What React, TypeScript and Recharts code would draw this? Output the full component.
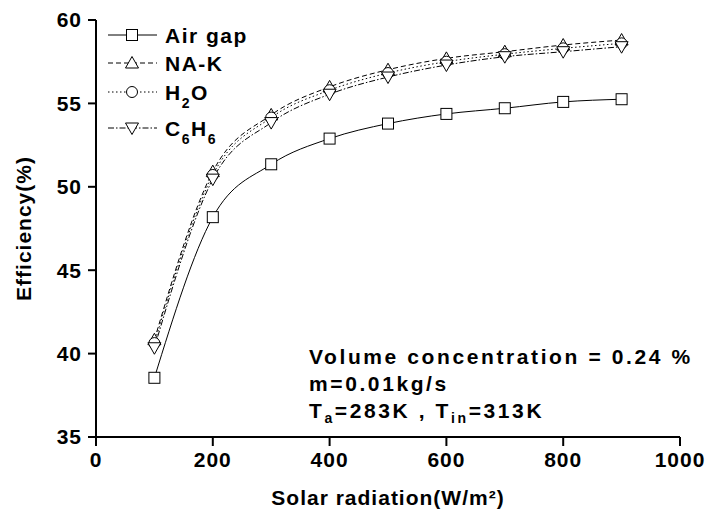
import React from "react";
import { LineChart, Line, XAxis, YAxis } from "recharts";

const radiation = [100, 200, 300, 400, 500, 600, 700, 800, 900];
const airGap = [38.55, 48.18, 51.35, 52.89, 53.79, 54.37, 54.71, 55.09, 55.25];
const naK = [40.83, 50.91, 54.31, 55.99, 57.02, 57.7, 58.1, 58.5, 58.8];
const h2o = [40.63, 50.71, 54.15, 55.79, 56.82, 57.5, 57.95, 58.3, 58.6];
const c6h6 = [40.35, 50.46, 53.85, 55.55, 56.58, 57.3, 57.8, 58.1, 58.4];

const xTicks = [0, 200, 400, 600, 800, 1000];
const xMinorTicks = [100, 300, 500, 700, 900];
const xTopTicks = [0, 100, 200, 300, 400, 500, 600, 700, 800, 900, 1000];
const yTicks = [35, 40, 45, 50, 55, 60];

const data = radiation.map((r, i) => ({
  r,
  airGap: airGap[i],
  naK: naK[i],
  h2o: h2o[i],
  c6h6: c6h6[i],
}));

const FONT = "'Liberation Sans', Arial, sans-serif";

type Shape = "square" | "up" | "circle" | "down";

function marker(shape: Shape, cx: number, cy: number, key?: string | number) {
  const p = { fill: "#fff", stroke: "#000", strokeWidth: 1 };
  if (shape === "square")
    return <rect key={key} {...p} x={cx - 5.5} y={cy - 5.5} width={11} height={11} />;
  if (shape === "circle") return <circle key={key} {...p} cx={cx} cy={cy} r={5.5} />;
  if (shape === "up")
    return <polygon key={key} {...p} points={`${cx},${cy - 6.5} ${cx + 6.5},${cy + 5} ${cx - 6.5},${cy + 5}`} />;
  return <polygon key={key} {...p} points={`${cx},${cy + 6.5} ${cx + 6.5},${cy - 5} ${cx - 6.5},${cy - 5}`} />;
}

const dotOf = (shape: Shape) => (props: any) =>
  marker(shape, props.cx, props.cy, `${shape}-${props.index}`);

const legendRows: { shape: Shape; dash?: string; y: number; label: React.ReactNode }[] = [
  { shape: "square", y: 15, label: "Air gap" },
  { shape: "up", dash: "5 3", y: 43, label: "NA-K" },
  {
    shape: "circle",
    dash: "1.5 2.5",
    y: 72,
    label: (
      <>
        <tspan>H</tspan>
        <tspan dy={8} fontSize={14}>2</tspan>
        <tspan dy={-8}>O</tspan>
      </>
    ),
  },
  {
    shape: "down",
    dash: "6 2 1.5 2",
    y: 108,
    label: (
      <>
        <tspan>C</tspan>
        <tspan dy={8} fontSize={14}>6</tspan>
        <tspan dy={-8}>H</tspan>
        <tspan dy={8} fontSize={14}>6</tspan>
      </>
    ),
  },
];

const LegendBox = () => (
  <svg width={200} height={130} style={{ position: "absolute", left: 100, top: 20 }}>
    {legendRows.map((row) => (
      <g key={row.shape}>
        <line x1={8} x2={57} y1={row.y} y2={row.y} stroke="#000" strokeWidth={1} strokeDasharray={row.dash} />
        {marker(row.shape, 32, row.y)}
        <text x={65} y={row.y + 7.5} fontFamily={FONT} fontWeight="bold" fontSize={21} letterSpacing={1.5}>
          {row.label}
        </text>
      </g>
    ))}
  </svg>
);

const tickStyle = { fontFamily: FONT, fontWeight: "bold" as const, fontSize: 21, fill: "#000", letterSpacing: 1 };
const axisLine = { stroke: "#000", strokeWidth: 2 };

export default function App() {
  return (
    <div style={{ position: "absolute", left: 0, top: 0, width: 708, height: 516, background: "#fff" }}>
      <LineChart width={708} height={516} data={data} margin={{ top: 20, right: 28, bottom: 19, left: 36 }}>
        <XAxis
          xAxisId="minor"
          dataKey="r"
          type="number"
          domain={[0, 1000]}
          ticks={xMinorTicks}
          height={0}
          tick={false}
          tickSize={5}
          axisLine={false}
          tickLine={axisLine}
        />
        <XAxis
          dataKey="r"
          type="number"
          domain={[0, 1000]}
          ticks={xTicks}
          height={60}
          tick={tickStyle}
          tickSize={9}
          tickMargin={6}
          axisLine={axisLine}
          tickLine={axisLine}
          label={{
            value: "Solar radiation(W/m²)",
            position: "insideBottom",
            offset: -8,
            style: { ...tickStyle, letterSpacing: 1 },
          }}
        />
        <XAxis
          xAxisId="top"
          orientation="top"
          dataKey="r"
          type="number"
          domain={[0, 1000]}
          ticks={xTopTicks}
          height={0}
          mirror
          tick={false}
          tickSize={5}
          axisLine={axisLine}
          tickLine={axisLine}
        />
        <YAxis
          type="number"
          domain={[35, 60]}
          ticks={yTicks}
          width={60}
          tick={tickStyle}
          tickSize={8}
          tickMargin={6}
          axisLine={axisLine}
          tickLine={axisLine}
          label={{
            value: "Efficiency(%)",
            angle: -90,
            position: "insideLeft",
            offset: -12,
            style: { ...tickStyle, textAnchor: "middle" },
          }}
        />
        <YAxis
          yAxisId="right"
          orientation="right"
          type="number"
          domain={[35, 60]}
          ticks={yTicks}
          width={0}
          tick={false}
          tickSize={3}
          axisLine={axisLine}
          tickLine={axisLine}
        />
        <Line type="monotone" dataKey="airGap" stroke="#000" strokeWidth={1} dot={dotOf("square")} isAnimationActive={false} />
        <Line type="monotone" dataKey="naK" stroke="#000" strokeWidth={1} strokeDasharray="5 3" dot={dotOf("up")} isAnimationActive={false} />
        <Line type="monotone" dataKey="h2o" stroke="#000" strokeWidth={1} strokeDasharray="1.5 2.5" dot={dotOf("circle")} isAnimationActive={false} />
        <Line type="monotone" dataKey="c6h6" stroke="#000" strokeWidth={1} strokeDasharray="6 2 1.5 2" dot={dotOf("down")} isAnimationActive={false} />
      </LineChart>
      <LegendBox />
      <div
        style={{
          position: "absolute",
          left: 309,
          top: 343,
          fontFamily: FONT,
          fontWeight: "bold",
          fontSize: 21,
          lineHeight: "27px",
          letterSpacing: 2.6,
          color: "#000",
          whiteSpace: "nowrap",
        }}
      >
        <div>Volume concentration = 0.24 %</div>
        <div>m=0.01kg/s</div>
        <div>
          T<sub style={{ fontSize: 14, lineHeight: 0 }}>a</sub>=283K , T
          <sub style={{ fontSize: 14, lineHeight: 0 }}>in</sub>=313K
        </div>
      </div>
    </div>
  );
}
